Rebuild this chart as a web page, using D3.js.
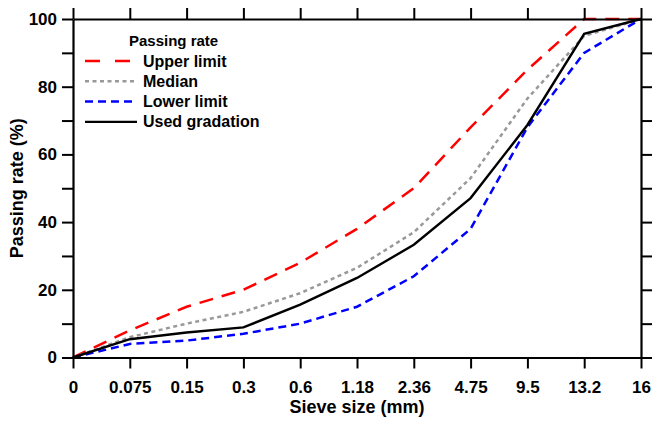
<!DOCTYPE html>
<html>
<head>
<meta charset="utf-8">
<script src="https://cdn.jsdelivr.net/npm/d3@7"></script>
<style>
  body { margin: 0; background: #fff; }
  text { font-family: "Liberation Sans", Arial, sans-serif; font-weight: bold; }
</style>
</head>
<body>
<div id="chart"></div>
<script>
// sieve sizes (categorical, evenly spaced)
var sieveSizes = ["0", "0.075", "0.15", "0.3", "0.6", "1.18", "2.36", "4.75", "9.5", "13.2", "16"];
var upperLimit = [0, 8, 15, 20, 28, 38, 50, 68, 85, 100, 100];
var median = [0, 6, 10, 13.5, 19, 26.5, 37, 53, 76.5, 95, 100];
var lowerLimit = [0, 4, 5, 7, 10, 15, 24, 38, 68, 90, 100];
var usedGradation = [0, 5.4, 7.4, 8.9, 15.6, 23.5, 33.3, 47.1, 68.7, 95.6, 100];
var yTicks = [0, 10, 20, 30, 40, 50, 60, 70, 80, 90, 100];

var legendTitle = "Passing rate";
var seriesNames = ["Upper limit", "Median", "Lower limit", "Used gradation"];

var width = 652, height = 422;
var margin = {top: 19, right: 11, bottom: 64.5, left: 73};
var w = width - margin.left - margin.right,
    h = height - margin.top - margin.bottom;

var svg = d3.select("#chart").append("svg")
    .attr("width", width)
    .attr("height", height);

var g = svg.append("g")
    .attr("transform", "translate(" + margin.left + "," + margin.top + ")");

var x = d3.scalePoint().domain(sieveSizes).range([0, w]).padding(0);
var y = d3.scaleLinear().domain([0, 100]).range([h, 0]);

var series = [
  {name: seriesNames[0], values: upperLimit, color: "#ff0000", dash: "14,9", width: 2.5},
  {name: seriesNames[1], values: median, color: "#999999", dash: "4,3.5", width: 2.5},
  {name: seriesNames[2], values: lowerLimit, color: "#0000ff", dash: "8,5", width: 2.5},
  {name: seriesNames[3], values: usedGradation, color: "#000000", dash: null, width: 2.4}
];

var line = d3.line()
    .x(function(d, i) { return x(sieveSizes[i]); })
    .y(function(d) { return y(d); });

series.forEach(function(s) {
  g.append("path")
    .datum(s.values)
    .attr("fill", "none")
    .attr("stroke", s.color)
    .attr("stroke-width", s.width)
    .attr("stroke-dasharray", s.dash)
    .attr("d", line);
});

// axes
var bottom = g.append("g")
    .attr("transform", "translate(0," + h + ")")
    .call(d3.axisBottom(x).tickSize(11).tickSizeOuter(0).tickPadding(12));
var top_ = g.append("g")
    .call(d3.axisTop(x).tickSize(11).tickSizeOuter(0).tickFormat(""));
var left = g.append("g")
    .call(d3.axisLeft(y).tickValues(yTicks).tickSize(11).tickSizeOuter(0).tickPadding(5)
      .tickFormat(function(d) { return d % 20 === 0 ? d : ""; }));
var right = g.append("g")
    .attr("transform", "translate(" + w + ",0)")
    .call(d3.axisRight(y).tickValues(yTicks).tickSize(11).tickSizeOuter(0).tickFormat(""));

[bottom, top_, left, right].forEach(function(a) {
  a.select(".domain").attr("stroke", "#000").attr("stroke-width", 2.2);
  a.selectAll(".tick line").attr("stroke", "#000").attr("stroke-width", 2);
  a.selectAll(".tick text").attr("fill", "#000")
    .style("font-size", "17px").style("font-weight", "bold")
    .style("font-family", '"Liberation Sans", Arial, sans-serif');
});

// axis titles
svg.append("text")
    .attr("x", margin.left + w / 2)
    .attr("y", 413)
    .attr("text-anchor", "middle")
    .style("font-size", "18px")
    .text("Sieve size (mm)");

svg.append("text")
    .attr("transform", "translate(23," + (margin.top + h / 2) + ") rotate(-90)")
    .attr("text-anchor", "middle")
    .style("font-size", "18px")
    .text("Passing rate (%)");

// legend
var legend = svg.append("g");
legend.append("text")
    .attr("x", 129)
    .attr("y", 46)
    .style("font-size", "15px")
    .text(legendTitle);

series.forEach(function(s, i) {
  var ly = 61 + i * 20.3;
  legend.append("line")
    .attr("x1", 85).attr("x2", 137)
    .attr("y1", ly).attr("y2", ly)
    .attr("stroke", s.color)
    .attr("stroke-width", s.width)
    .attr("stroke-dasharray", i === 0 ? "15,15" : s.dash);
  legend.append("text")
    .attr("x", 143)
    .attr("y", ly + 5.5)
    .style("font-size", "16px")
    .text(s.name);
});
</script>
</body>
</html>
